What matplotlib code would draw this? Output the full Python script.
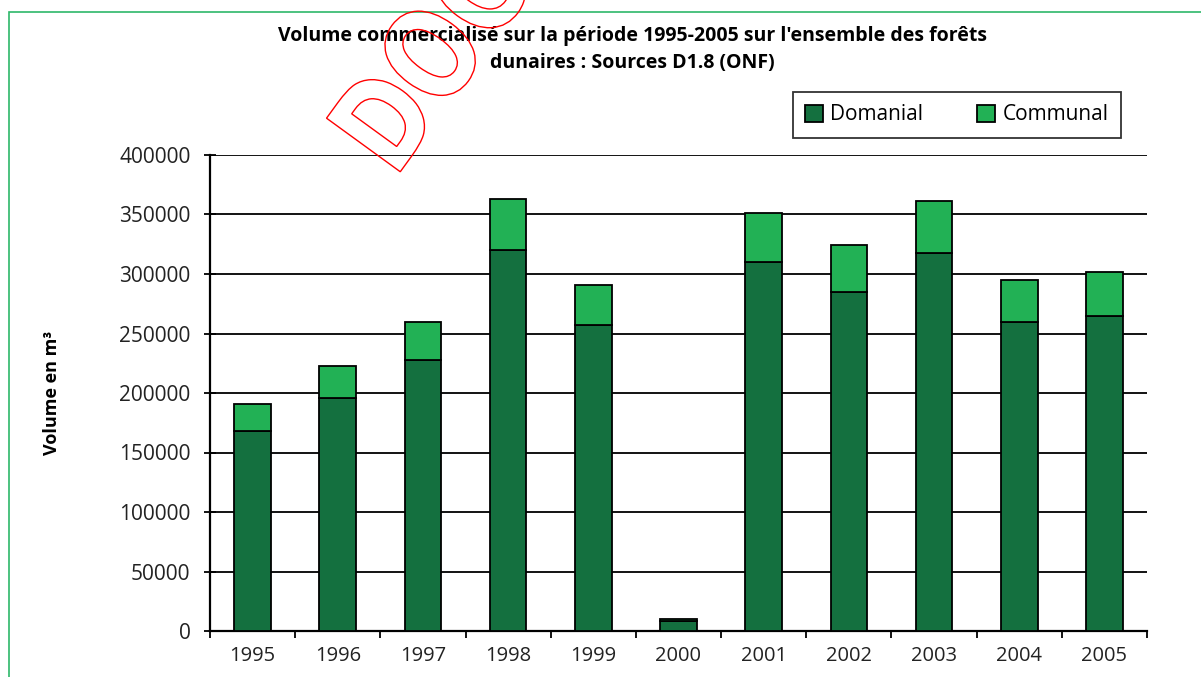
import matplotlib.pyplot as plt
from matplotlib.textpath import TextPath
from matplotlib.patches import PathPatch, Rectangle
from matplotlib.font_manager import FontProperties
from matplotlib.transforms import Affine2D

years = ['1995', '1996', '1997', '1998', '1999', '2000',
         '2001', '2002', '2003', '2004', '2005']
domanial = [168000, 196000, 228000, 320000, 257000, 8000,
            310000, 285000, 318000, 260000, 265000]
communal = [23000, 26500, 31700, 43000, 34000, 2000,
            41500, 39500, 43500, 34600, 36500]

dark_green = '#14703F'
light_green = '#22B155'

plt.rcParams['font.family'] = ['Open Sans', 'DejaVu Sans']

fig = plt.figure(figsize=(12.01, 6.77), dpi=100)
ax = fig.add_axes([210 / 1201, 1 - 631 / 677, 937 / 1201, 476 / 677])

x = list(range(len(years)))
ax.bar(x, domanial, width=0.43, color=dark_green, edgecolor='black',
       linewidth=1.3, label='Domanial', zorder=3)
ax.bar(x, communal, width=0.43, bottom=domanial, color=light_green,
       edgecolor='black', linewidth=1.3, label='Communal', zorder=3)

ax.set_xlim(-0.5, len(years) - 0.5)
ax.set_ylim(0, 400000)
ax.set_yticks(range(0, 400001, 50000))
ax.yaxis.grid(True, color='black', linewidth=1.3, zorder=0)
ax.set_axisbelow(True)

# ticks between categories, labels centred
ax.set_xticks([i - 0.5 for i in range(len(years) + 1)])
ax.set_xticklabels([])
ax.set_xticks(x, minor=True)
ax.set_xticklabels(years, minor=True, fontsize=14.5, color='#222222')
ax.tick_params(axis='x', which='minor', length=0, pad=11)
ax.tick_params(axis='x', which='major', length=5, width=1.3, direction='out')
ax.tick_params(axis='y', length=8, width=1.3, direction='inout',
               labelsize=15, labelcolor='#222222', pad=10)

for side in ['top', 'right']:
    ax.spines[side].set_visible(False)
for side in ['left', 'bottom']:
    ax.spines[side].set_linewidth(1.6)

ax.set_ylabel('Volume en m³', fontsize=13, fontweight='bold', labelpad=42)

fig.text(632 / 1201, 1 - 36 / 677,
         "Volume commercialisé sur la période 1995-2005 sur l'ensemble des forêts",
         ha='center', va='center', fontsize=14, fontweight='bold')
fig.text(632 / 1201, 1 - 63 / 677, 'dunaires : Sources D1.8 (ONF)',
         ha='center', va='center', fontsize=14, fontweight='bold')

leg = ax.legend(loc='upper right', bbox_to_anchor=(1121 / 1201, 1 - 92 / 677),
                bbox_transform=fig.transFigure, borderaxespad=0, ncol=2,
                frameon=True, fancybox=False, edgecolor='black', fontsize=15,
                handlelength=0.85, handleheight=0.85, handletextpad=0.35,
                columnspacing=2.6, borderpad=0.6)
leg.get_frame().set_linewidth(1.3)

# green outer border of the chart area
fig.patches.append(Rectangle((9 / 1201, -0.1), 1.2, 1.1 - 12 / 677,
                             transform=fig.transFigure, fill=False,
                             edgecolor='#2DB86A', linewidth=1.2))

# red outlined watermark
wm = fig.add_axes([0, 0, 1, 1], zorder=5)
wm.set_xlim(0, 1201)
wm.set_ylim(0, 677)
wm.axis('off')
tp = TextPath((0, 0), 'DOC', size=125,
              prop=FontProperties(family='DejaVu Sans', weight='bold'))
tr = Affine2D().scale(0.78, 1).rotate_deg(54).translate(395, 498)
wm.add_patch(PathPatch(tr.transform_path(tp), facecolor='none',
                       edgecolor='red', linewidth=1.0))

fig.savefig('out.png', dpi=100)
